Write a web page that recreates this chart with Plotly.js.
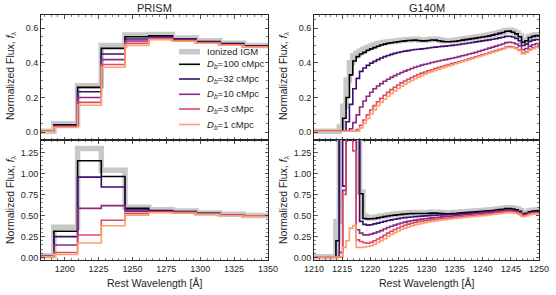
<!DOCTYPE html>
<html><head><meta charset="utf-8">
<script src="https://cdn.plot.ly/plotly-3.0.1.min.js"></script>
<style>html,body{margin:0;padding:0;background:#fff}#chart{width:556px;height:295px}</style>
</head><body><div id="chart"></div>
<script>
// Series names and colours
const seriesNames = ['Ionized IGM','<i>D</i><sub><i>b</i></sub>=100 cMpc','<i>D</i><sub><i>b</i></sub>=32 cMpc','<i>D</i><sub><i>b</i></sub>=10 cMpc','<i>D</i><sub><i>b</i></sub>=3 cMpc','<i>D</i><sub><i>b</i></sub>=1 cMpc'];
const seriesColors = ['#c8c8c8','#000000','#3b0f70','#8c2981','#de4968','#fe9f6d'];

// PRISM bins (left edges) and last edge
const lamP = [1174.5,1192,1209.5,1227,1244.5,1262,1279.5,1297,1314.5,1332];
const lamPEnd = 1350;
// PRISM top (no Lya emission)
const pTopIon = [0.005,0.048,0.268,0.5,0.56,0.562,0.542,0.526,0.513,0.5];
const pTop100 = [0.005,0.042,0.258,0.483,0.55,0.555,0.537,0.522,0.51,0.497];
const pTop32  = [0.005,0.038,0.233,0.45,0.537,0.548,0.533,0.519,0.507,0.495];
const pTop10  = [0.005,0.035,0.2,0.418,0.525,0.543,0.53,0.517,0.505,0.493];
const pTop3   = [0.005,0.03,0.172,0.39,0.512,0.538,0.527,0.514,0.503,0.491];
const pTop1   = [0.005,0.028,0.155,0.374,0.5,0.533,0.524,0.512,0.501,0.49];
// PRISM bottom (with Lya emission)
const pBotIon = [0.02,0.36,1.3,1.04,0.6,0.57,0.555,0.53,0.515,0.5];
const pBot100 = [0.015,0.313,1.153,0.965,0.585,0.56,0.548,0.527,0.51,0.497];
const pBot32  = [0.015,0.248,0.958,0.84,0.565,0.552,0.543,0.523,0.507,0.495];
const pBot10  = [0.015,0.148,0.585,0.618,0.55,0.546,0.539,0.52,0.505,0.493];
const pBot3   = [0.012,0.06,0.268,0.443,0.525,0.54,0.535,0.517,0.503,0.491];
const pBot1   = [0.01,0.035,0.173,0.378,0.505,0.533,0.53,0.514,0.501,0.49];

// G140M bins (left edges) and last edge
const lamG = [1209.7,
1210.3,1210.9,1211.5,1212.1,1212.7,1213.3,1213.9,1214.5,1215.1,1215.7,
1216.3,1216.9,1217.5,1218.1,1218.7,1219.3,1219.9,1220.5,1221.1,1221.7,
1222.3,1222.9,1223.5,1224.1,1224.7,1225.3,1225.9,1226.5,1227.1,1227.7,
1228.3,1228.9,1229.5,1230.1,1230.7,1231.3,1231.9,1232.5,1233.1,1233.7,
1234.3,1234.9,1235.5,1236.1,1236.7,1237.3,1237.9,1238.5,1239.1,1239.7,
1240.3,1240.9,1241.5,1242.1,1242.7,1243.3,1243.9,1244.5,1245.1,1245.7,
1246.3,1246.9,1247.5,1248.1,1248.7,1249.3,1249.9];
const lamGEnd = 1250.5;

// G140M top (no Lya emission)
const gTopIon = [0.005,
0.005,0.005,0.005,0.005,0.005,0.005,0.005,0.03,0.15,0.3,
0.4,0.44,0.455,0.468,0.478,0.487,0.495,0.502,0.508,0.513,
0.517,0.52,0.522,0.524,0.527,0.529,0.531,0.533,0.534,0.535,
0.533,0.531,0.531,0.533,0.536,0.535,0.532,0.528,0.526,0.526,
0.527,0.529,0.532,0.535,0.538,0.541,0.544,0.547,0.55,0.553,
0.556,0.56,0.564,0.569,0.574,0.579,0.586,0.587,0.581,0.571,
0.555,0.523,0.532,0.55,0.557,0.561,0.56];
const gTop100 = [0.005,
0.005,0.005,0.005,0.005,0.005,0.005,0.005,0.005,0.08,0.2,
0.33,0.41,0.435,0.45,0.46,0.472,0.48,0.487,0.495,0.502,
0.507,0.512,0.515,0.518,0.521,0.524,0.526,0.528,0.529,0.53,
0.528,0.526,0.526,0.528,0.531,0.53,0.527,0.523,0.521,0.521,
0.522,0.524,0.527,0.53,0.533,0.536,0.539,0.542,0.545,0.548,
0.551,0.555,0.559,0.564,0.569,0.574,0.581,0.582,0.576,0.566,
0.55,0.518,0.527,0.545,0.552,0.556,0.555];
const gTop32 = [0.005,
0.005,0.005,0.005,0.005,0.005,0.005,0.005,0.005,0.005,0.06,
0.16,0.25,0.31,0.35,0.37,0.385,0.398,0.408,0.418,0.427,
0.435,0.442,0.448,0.454,0.459,0.463,0.467,0.47,0.473,0.476,
0.478,0.48,0.482,0.485,0.488,0.49,0.492,0.494,0.496,0.498,
0.5,0.502,0.505,0.508,0.511,0.514,0.517,0.52,0.523,0.526,
0.529,0.532,0.535,0.539,0.543,0.547,0.552,0.553,0.548,0.54,
0.527,0.499,0.507,0.523,0.53,0.534,0.533];
const gTop10 = [0.005,
0.005,0.005,0.005,0.005,0.005,0.005,0.005,0.005,0.005,0.005,
0.02,0.055,0.1,0.145,0.18,0.207,0.23,0.25,0.266,0.28,
0.293,0.305,0.316,0.326,0.335,0.344,0.352,0.36,0.367,0.374,
0.38,0.386,0.391,0.396,0.401,0.406,0.41,0.414,0.418,0.422,
0.426,0.43,0.435,0.44,0.445,0.45,0.455,0.46,0.466,0.472,
0.478,0.484,0.49,0.496,0.502,0.508,0.516,0.518,0.515,0.508,
0.497,0.475,0.482,0.496,0.504,0.509,0.51];
const gTop3 = [0.005,
0.005,0.005,0.005,0.005,0.005,0.005,0.005,0.005,0.005,0.005,
0.005,0.005,0.015,0.04,0.07,0.1,0.128,0.153,0.175,0.195,
0.213,0.23,0.245,0.259,0.272,0.284,0.295,0.305,0.315,0.324,
0.332,0.34,0.347,0.354,0.36,0.366,0.372,0.378,0.384,0.39,
0.395,0.4,0.405,0.41,0.416,0.422,0.428,0.434,0.44,0.446,
0.452,0.458,0.464,0.47,0.476,0.482,0.491,0.493,0.491,0.485,
0.475,0.456,0.463,0.477,0.486,0.491,0.492];
const gTop1 = [0.005,
0.005,0.005,0.005,0.005,0.005,0.005,0.005,0.005,0.005,0.005,
0.005,0.005,0.005,0.025,0.05,0.078,0.105,0.13,0.152,0.172,
0.19,0.207,0.223,0.238,0.252,0.265,0.277,0.288,0.298,0.308,
0.317,0.326,0.334,0.342,0.349,0.356,0.363,0.37,0.376,0.382,
0.388,0.394,0.4,0.406,0.412,0.418,0.424,0.43,0.436,0.442,
0.448,0.454,0.46,0.466,0.472,0.478,0.486,0.488,0.486,0.48,
0.47,0.451,0.458,0.472,0.481,0.486,0.487];

// G140M bottom (with Lya emission; 3 = beyond the axis top)
const gBotIon = [0.01,
0.01,0.01,0.01,0.01,0.01,0.01,0.43,3,3,3,
3,3,3,0.78,0.49,0.472,0.47,0.475,0.482,0.49,
0.497,0.504,0.51,0.515,0.52,0.524,0.528,0.531,0.533,0.535,
0.535,0.534,0.534,0.536,0.539,0.539,0.537,0.534,0.532,0.532,
0.533,0.535,0.538,0.541,0.544,0.547,0.55,0.553,0.556,0.559,
0.562,0.566,0.57,0.575,0.58,0.585,0.591,0.593,0.587,0.577,
0.561,0.528,0.537,0.555,0.562,0.567,0.566];
const gBot100 = [0.005,
0.005,0.005,0.005,0.005,0.005,0.005,0.2,3,3,3,
3,3,3,0.76,0.465,0.46,0.462,0.465,0.472,0.48,
0.487,0.494,0.5,0.505,0.51,0.514,0.518,0.521,0.523,0.525,
0.525,0.524,0.524,0.526,0.529,0.529,0.527,0.524,0.522,0.522,
0.523,0.525,0.528,0.531,0.534,0.537,0.54,0.543,0.546,0.549,
0.552,0.556,0.56,0.565,0.57,0.575,0.582,0.583,0.577,0.567,
0.551,0.518,0.527,0.545,0.552,0.557,0.556];
const gBot32 = [0.005,
0.005,0.005,0.005,0.005,0.005,0.005,0.005,3,0.85,3,
3,3,3,0.43,0.395,0.385,0.39,0.4,0.41,0.42,
0.43,0.44,0.448,0.456,0.463,0.47,0.475,0.479,0.483,0.487,
0.49,0.493,0.496,0.499,0.502,0.504,0.506,0.508,0.51,0.512,
0.514,0.516,0.518,0.52,0.523,0.526,0.529,0.532,0.535,0.538,
0.541,0.544,0.547,0.55,0.554,0.558,0.563,0.564,0.559,0.551,
0.538,0.508,0.516,0.533,0.54,0.543,0.542];
const gBot10 = [0.005,
0.005,0.005,0.005,0.005,0.005,0.005,0.005,0.06,0.8,3,
3,3,0.33,0.29,0.27,0.27,0.278,0.29,0.305,0.32,
0.34,0.357,0.372,0.386,0.399,0.411,0.421,0.43,0.438,0.445,
0.451,0.457,0.462,0.467,0.472,0.476,0.48,0.484,0.488,0.491,
0.494,0.498,0.502,0.506,0.51,0.514,0.518,0.522,0.526,0.53,
0.534,0.538,0.542,0.546,0.55,0.554,0.558,0.559,0.554,0.546,
0.533,0.504,0.512,0.529,0.536,0.539,0.538];
const gBot3 = [0.005,
0.005,0.005,0.005,0.005,0.005,0.005,0.005,0.005,0.75,3,
3,1.27,0.21,0.19,0.175,0.17,0.18,0.2,0.22,0.24,
0.265,0.29,0.312,0.333,0.352,0.369,0.384,0.397,0.408,0.418,
0.426,0.433,0.439,0.445,0.45,0.455,0.459,0.463,0.467,0.471,
0.475,0.479,0.483,0.487,0.491,0.495,0.499,0.503,0.507,0.511,
0.515,0.52,0.525,0.53,0.535,0.54,0.547,0.548,0.543,0.536,
0.524,0.496,0.504,0.52,0.527,0.53,0.53];
const gBot1 = [0.005,
0.005,0.005,0.005,0.005,0.005,0.005,0.005,0.005,0.12,0.2,
0.35,0.38,0.12,0.12,0.125,0.13,0.14,0.158,0.178,0.2,
0.225,0.25,0.274,0.296,0.316,0.334,0.35,0.364,0.377,0.388,
0.398,0.407,0.415,0.422,0.429,0.435,0.441,0.446,0.451,0.456,
0.461,0.466,0.47,0.474,0.478,0.482,0.486,0.49,0.494,0.498,
0.502,0.507,0.512,0.517,0.522,0.527,0.532,0.535,0.531,0.524,
0.512,0.486,0.494,0.51,0.517,0.52,0.52];

const panels = [
  {xa:'x',  ya:'y',  edges:lamP, end:lamPEnd, sets:[pTopIon,pTop100,pTop32,pTop10,pTop3,pTop1]},
  {xa:'x2', ya:'y2', edges:lamP, end:lamPEnd, sets:[pBotIon,pBot100,pBot32,pBot10,pBot3,pBot1]},
  {xa:'x3', ya:'y3', edges:lamG, end:lamGEnd, sets:[gTopIon,gTop100,gTop32,gTop10,gTop3,gTop1]},
  {xa:'x4', ya:'y4', edges:lamG, end:lamGEnd, sets:[gBotIon,gBot100,gBot32,gBot10,gBot3,gBot1]}
];

const lineW = [5.5,1.6,1.6,1.6,1.6,1.6];
const traces = [];
panels.forEach(p => {
  p.sets.forEach((vals, k) => {
    traces.push({
      type:'scatter', mode:'lines',
      x: p.edges.concat([p.end]),
      y: vals.concat([vals[vals.length-1]]),
      xaxis:p.xa, yaxis:p.ya,
      line:{shape:'hv', color:seriesColors[k], width:lineW[k]},
      name: seriesNames[k], showlegend:false, hoverinfo:'skip'
    });
  });
});

const W = 556, H = 295;
const xL = [41/W, 268/W], xR = [314/W, 539/W];
const yT = [1-140/H, 1-15/H], yB = [1-260/H, 1-140/H];
const ink = '#262626';
const tf = {family:'Liberation Sans, Arial, sans-serif', size:9, color:ink};
function axis(domain, anchor, extra){
  return Object.assign({domain:domain, anchor:anchor, showline:true, linecolor:ink, linewidth:1,
    mirror:'allticks', ticks:'inside', ticklen:3.5, tickwidth:0.8, tickcolor:ink,
    showgrid:false, zeroline:false, tickfont:tf, fixedrange:true}, extra);
}
const mnr = d => ({ticks:'inside', ticklen:2, dtick:d, tickcolor:ink, tickwidth:0.6});

// legend drawn inside the PRISM top panel
const legRows = [51.7, 64.3, 79, 94.3, 109, 124.5];
const shapes = [], annotations = [];
legRows.forEach((r, k) => {
  shapes.push({type:'line', xref:'paper', yref:'paper', x0:179/W, x1:200/W, y0:1-r/H, y1:1-r/H,
    line:{color:seriesColors[k], width:lineW[k]}});
  annotations.push({text:seriesNames[k], x:205/W, y:1-r/H, xref:'paper', yref:'paper', xanchor:'left', yanchor:'middle',
    showarrow:false, font:{size:9.5, color:ink}});
});
const ann = (text, x, y, extra) => Object.assign({text:text, x:x/W, y:1-y/H, xref:'paper', yref:'paper',
  xanchor:'center', yanchor:'middle', showarrow:false, font:{size:11, color:ink}}, extra||{});
const yTitle = 'Normalized Flux, <i>f</i><sub>λ</sub>';
annotations.push(
  ann('PRISM', 154.5, 7.5), ann('G140M', 426.5, 7.5),
  ann('Rest Wavelength [Å]', 154.5, 283, {font:{size:10.5, color:ink}}),
  ann('Rest Wavelength [Å]', 426.5, 283, {font:{size:10.5, color:ink}}),
  ann(yTitle, 11, 76, {textangle:-90, font:{size:10.5, color:ink}}),
  ann(yTitle, 11, 200, {textangle:-90, font:{size:10.5, color:ink}}),
  ann(yTitle, 284, 76, {textangle:-90, font:{size:10.5, color:ink}}),
  ann(yTitle, 284, 200, {textangle:-90, font:{size:10.5, color:ink}})
);

const layout = {
  width:W, height:H, margin:{l:0,r:0,t:0,b:0}, paper_bgcolor:'#fff', plot_bgcolor:'#fff',
  font:{family:'Liberation Sans, Arial, sans-serif', size:10, color:ink},
  showlegend:false,
  xaxis: axis(xL,'y',{range:[1182.5,1350], tick0:1200, dtick:25, showticklabels:false, minor:mnr(5)}),
  yaxis: axis(yT,'x',{range:[-0.045,0.675], tick0:0, dtick:0.2, tickformat:'.1f', minor:mnr(0.05)}),
  xaxis2: axis(xL,'y2',{range:[1182.5,1350], tick0:1200, dtick:25, minor:mnr(5)}),
  yaxis2: axis(yB,'x2',{range:[-0.03,1.40], tick0:0, dtick:0.25, tickformat:'.2f', minor:mnr(0.05)}),
  xaxis3: axis(xR,'y3',{range:[1210,1250], tick0:1210, dtick:5, showticklabels:false, minor:mnr(1)}),
  yaxis3: axis(yT,'x3',{range:[-0.045,0.675], tick0:0, dtick:0.2, tickformat:'.1f', minor:mnr(0.05)}),
  xaxis4: axis(xR,'y4',{range:[1210,1250], tick0:1210, dtick:5, minor:mnr(1)}),
  yaxis4: axis(yB,'x4',{range:[-0.03,1.40], tick0:0, dtick:0.25, tickformat:'.2f', minor:mnr(0.05)}),
  shapes:shapes,
  annotations:annotations
};
Plotly.newPlot('chart', traces, layout, {staticPlot:true, displayModeBar:false});
</script></body></html>
